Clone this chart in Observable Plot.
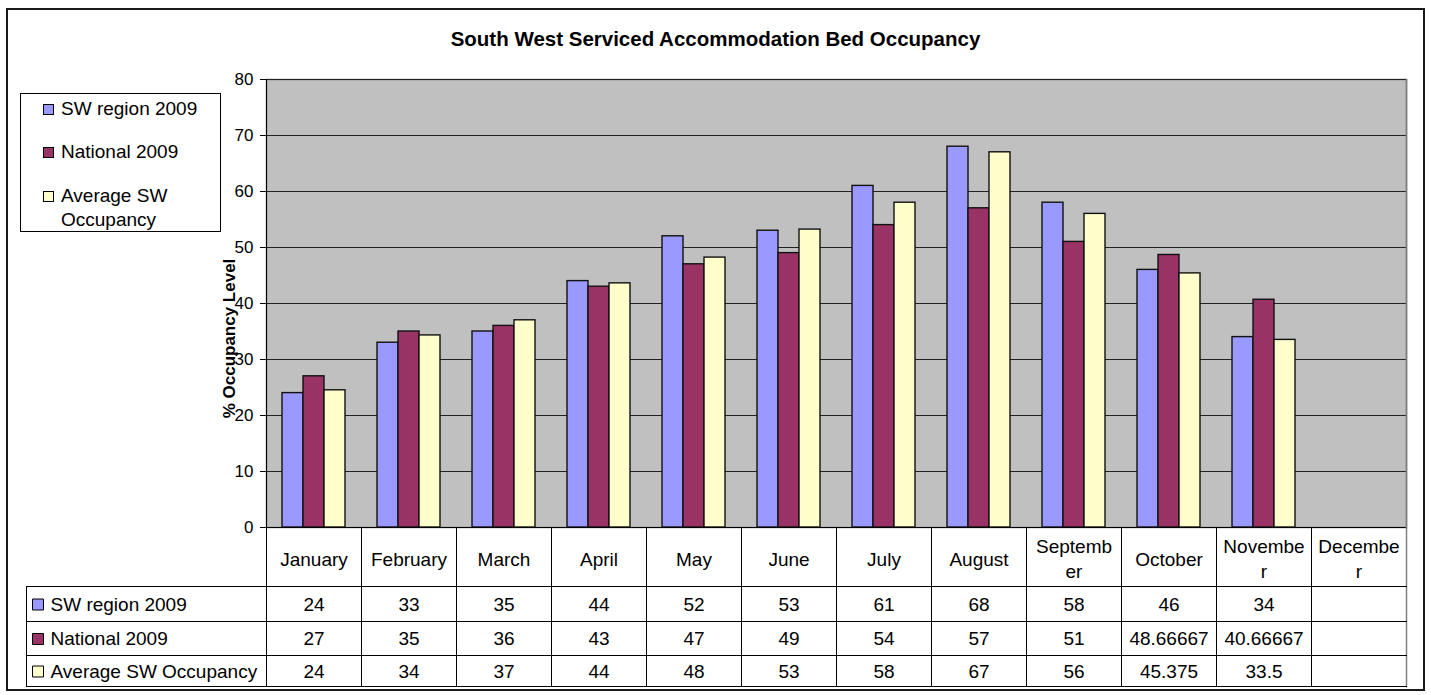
<!DOCTYPE html>
<html>
<head>
<meta charset="utf-8">
<script src="https://cdn.jsdelivr.net/npm/d3@7"></script>
<script src="https://cdn.jsdelivr.net/npm/@observablehq/plot@0.6"></script>
<style>
  html, body { margin: 0; padding: 0; background: #fff; }
  body { font-family: "Liberation Sans", Arial, sans-serif; }
  #wrap { position: relative; width: 1431px; height: 695px; overflow: hidden; }
  #wrap svg { position: absolute; left: 0; top: 0; }
  .outer { position: absolute; left: 6px; top: 8px; width: 1419px; height: 683px; box-sizing: border-box; border: 2px solid #1a1a1a; pointer-events: none; }
  .title { position: absolute; left: 0; top: 27px; width: 1431px; text-align: center; font-weight: bold; font-size: 20.5px; line-height: 24px; color: #000; }
  .legend { position: absolute; left: 20px; top: 93px; width: 201px; height: 139px; box-sizing: border-box; border: 1px solid #000; background: #fff; }
  .legend .sw { position: absolute; left: 22px; width: 11px; height: 11px; box-sizing: border-box; border: 1px solid #000; }
  .legend .lt { position: absolute; left: 40px; font-size: 19px; line-height: 24px; color: #000; white-space: nowrap; }
</style>
</head>
<body>
<div id="wrap"></div>
<script>
// ---- data ----
const months = ["January", "February", "March", "April", "May", "June", "July", "August", "September", "October", "November", "December"];
const headerLabels = ["January", "February", "March", "April", "May", "June", "July", "August", "Septemb\ner", "October", "Novembe\nr", "Decembe\nr"];
const series = ["SW region 2009", "National 2009", "Average SW Occupancy"];
const legendLabels = ["SW region 2009", "National 2009", "Average SW\nOccupancy"];
const swRegion2009 = [24, 33, 35, 44, 52, 53, 61, 68, 58, 46, 34, null];
const national2009 = [27, 35, 36, 43, 47, 49, 54, 57, 51, 48.66667, 40.66667, null];
const averageSW = [24.5, 34.3, 37, 43.6, 48.2, 53.2, 58, 67, 56, 45.375, 33.5, null];
const swRegionText = ["24", "33", "35", "44", "52", "53", "61", "68", "58", "46", "34", ""];
const nationalText = ["27", "35", "36", "43", "47", "49", "54", "57", "51", "48.66667", "40.66667", ""];
const averageSWText = ["24", "34", "37", "44", "48", "53", "58", "67", "56", "45.375", "33.5", ""];
const yTicks = [0, 10, 20, 30, 40, 50, 60, 70, 80];
const colors = ["#9999FF", "#993366", "#FFFFCC"];
const titleText = "South West Serviced Accommodation Bed Occupancy";
const yLabel = "% Occupancy Level";

// ---- build ----
const seriesValues = [swRegion2009, national2009, averageSW];
const seriesTexts = [swRegionText, nationalText, averageSWText];
const rows = months.flatMap((m, i) => series.map((s, j) => ({month: m, series: s, value: seriesValues[j][i]})))
  .filter(d => d.value != null);

// table layout (px offsets below the plot frame)
const frameH = 695 - 79 - 168;
const rowCenters = [77, 111.5, 144];
const rowLines = [59, 94, 128, 159];
const tableBottom = 159;
const labelColumn = 240;
const font = 19;

const marks = [
  Plot.frame({facet: "super", fill: "#C0C0C0", stroke: "#808080", strokeWidth: 1.5}),
  Plot.ruleY(yTicks, {stroke: "#222", strokeWidth: 1}),
  Plot.barY(rows, {fx: "month", x: "series", y: "value", fill: "series", stroke: "#111", strokeWidth: 1.4}),
  Plot.frame({facet: "super", anchor: "left", stroke: "#000"}),
  Plot.frame({facet: "super", anchor: "bottom", stroke: "#000"}),
  // table grid
  Plot.frame({anchor: "left", stroke: "#000", insetTop: frameH, insetBottom: -tableBottom}),
  Plot.frame({facet: "super", anchor: "right", stroke: "#808080", strokeWidth: 1.5, insetBottom: -tableBottom}),
  Plot.frame({facet: "super", anchor: "left", stroke: "#000", insetLeft: -labelColumn, insetTop: frameH + rowLines[0], insetBottom: -tableBottom}),
  ...rowLines.map(o => Plot.frame({facet: "super", anchor: "bottom", stroke: "#000", insetLeft: -labelColumn, insetBottom: -o})),
  // header row (category labels)
  Plot.text(months, {fx: d => d, text: (d, i) => headerLabels[i], frameAnchor: "bottom", dy: 30, lineAnchor: "middle", lineHeight: 1.33, fontSize: font, fill: "#000"}),
  // data rows
  ...series.map((s, j) => Plot.text(months.map((m, i) => ({m, t: seriesTexts[j][i]})), {fx: "m", text: "t", frameAnchor: "bottom", dy: rowCenters[j], lineAnchor: "middle", fontSize: font, fill: "#000"})),
  // row labels and swatches
  ...series.map((s, j) => Plot.text([s], {facet: "super", frameAnchor: "bottom-left", dx: 46 - 262, dy: rowCenters[j], textAnchor: "start", lineAnchor: "middle", fontSize: font, fill: "#000"})),
  ...series.map((s, j) => Plot.dot([s], {facet: "super", frameAnchor: "bottom-left", dx: 33.5 - 262, dy: rowCenters[j], symbol: "square", r: 6.2, fill: colors[j], stroke: "#000", strokeWidth: 1})),
  // y axis title
  Plot.text([yLabel], {facet: "super", frameAnchor: "left", textAnchor: "middle", lineAnchor: "middle", dx: -37, dy: 35, rotate: -90, fontWeight: "bold", fontSize: 17, fill: "#000"})
];

const chart = Plot.plot({
  width: 1431,
  height: 695,
  marginLeft: 262,
  marginRight: 22,
  marginTop: 79,
  marginBottom: 168,
  style: {fontFamily: '"Liberation Sans", Arial, sans-serif', fontSize: "17px", background: "transparent", color: "#000", overflow: "visible"},
  fx: {domain: months, padding: 0, axis: null},
  x: {domain: series, paddingInner: 0, paddingOuter: 0.71, axis: null},
  y: {domain: [0, 80], ticks: yTicks, tickSize: 6, tickPadding: 7, label: null},
  color: {domain: series, range: colors},
  marks
});

const wrap = document.getElementById("wrap");
wrap.appendChild(chart);

const title = document.createElement("div");
title.className = "title";
title.textContent = titleText;
wrap.appendChild(title);

const legend = document.createElement("div");
legend.className = "legend";
const swTops = [10, 53, 97];
const textTops = [3, 46, 90];
series.forEach((s, j) => {
  const sw = document.createElement("div");
  sw.className = "sw";
  sw.style.top = swTops[j] + "px";
  sw.style.background = colors[j];
  legend.appendChild(sw);
  legendLabels[j].split("\n").forEach((line, k) => {
    const t = document.createElement("div");
    t.className = "lt";
    t.style.top = (textTops[j] + k * 24) + "px";
    t.textContent = line;
    legend.appendChild(t);
  });
});
wrap.appendChild(legend);

const outer = document.createElement("div");
outer.className = "outer";
wrap.appendChild(outer);
</script>
</body>
</html>
